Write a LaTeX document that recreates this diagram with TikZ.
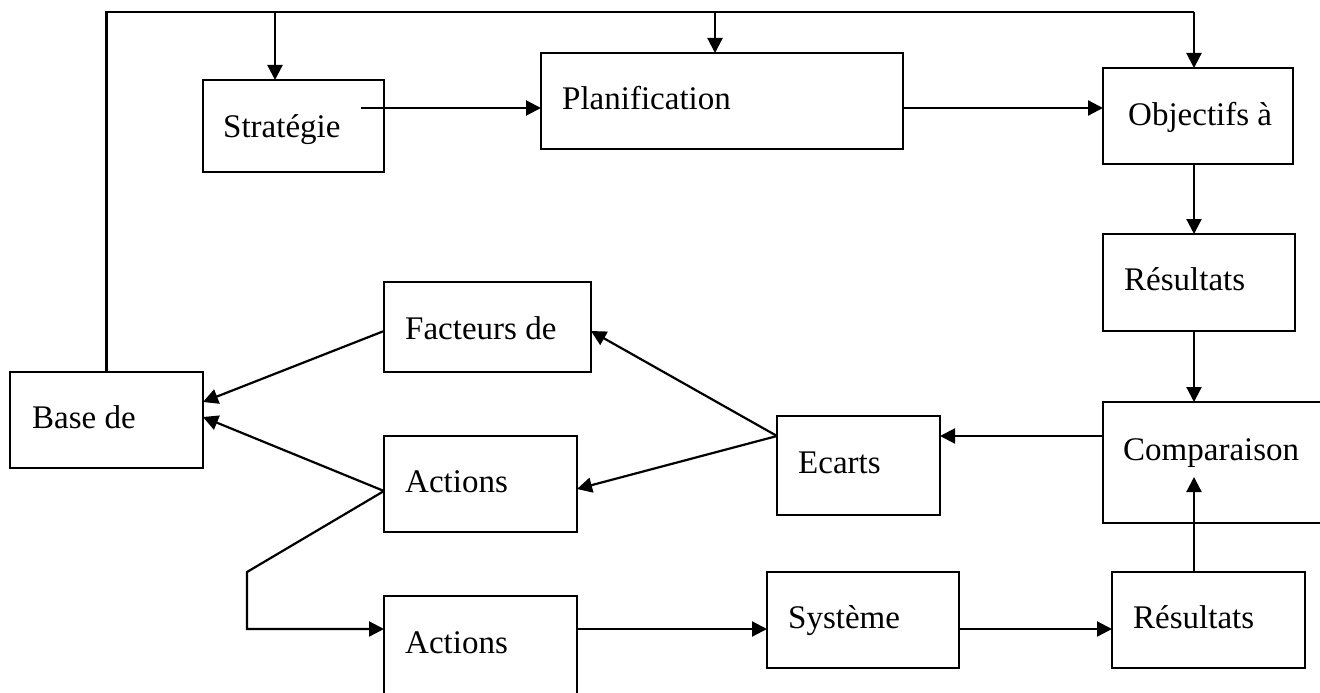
\documentclass[tikz,border=0pt]{standalone}
\usepackage{fontspec}
\setmainfont{Liberation Serif}
\usetikzlibrary{arrows.meta,calc}
\begin{document}
\begin{tikzpicture}[x=1pt,y=-1pt,
  box/.style={draw, line width=1.8pt, rectangle, inner sep=0pt, outer sep=0pt},
  lbl/.style={anchor=base west, inner sep=0pt, font=\fontsize{33}{40}\selectfont},
  ln/.style={line width=2.2pt},
  arr/.style={line width=2.2pt, -{Triangle[length=15pt,width=15pt]}}]
\useasboundingbox (0,0) rectangle (1320,693);
% boxes
\node[box, minimum width=181pt, minimum height=92pt] (strat) at (293.5,126) {};
\node[box, minimum width=362pt, minimum height=96pt] (plan) at (722,101) {};
\node[box, minimum width=190pt, minimum height=96pt] (obj) at (1198,116) {};
\node[box, minimum width=192pt, minimum height=97pt] (res1) at (1199,282.5) {};
\node[box, minimum width=219pt, minimum height=121pt] (comp) at (1212.5,462.5) {};
\node[box, minimum width=163pt, minimum height=99pt] (ecarts) at (858.5,465.5) {};
\node[box, minimum width=207pt, minimum height=90pt] (fact) at (487.5,327) {};
\node[box, minimum width=193pt, minimum height=96pt] (act1) at (480.5,484) {};
\node[box, minimum width=193pt, minimum height=100pt] (act2) at (480.5,646) {};
\node[box, minimum width=193pt, minimum height=96pt] (base) at (106.5,420) {};
\node[box, minimum width=192pt, minimum height=96pt] (sys) at (863,620) {};
\node[box, minimum width=193pt, minimum height=96pt] (res2) at (1208.5,620) {};
% labels
\node[lbl] (tstrat) at (223,137) {Stratégie};
\node[lbl] (tplan) at (562,110) {Planification};
\node[lbl] (tobj) at (1128,125) {Objectifs à};
\node[lbl] (tres1) at (1124,290) {Résultats};
\node[lbl] (tcomp) at (1123,460) {Comparaison};
\node[lbl] (tecarts) at (798,473) {Ecarts};
\node[lbl] (tfact) at (405,339) {Facteurs de};
\node[lbl] (tact1) at (405,492) {Actions};
\node[lbl] (tact2) at (405,653) {Actions};
\node[lbl] (tbase) at (32,428) {Base de};
\node[lbl] (tsys) at (788,628) {Système};
\node[lbl] (tres2) at (1133,628) {Résultats};
% helper coordinates
\coordinate (tl) at (106.5,12);
\coordinate (tr) at (1194,12);
\coordinate (s1) at (275,12);
\coordinate (s2) at (715,12);
\coordinate (a1) at (361,108);
\coordinate (h1) at (0,436);
\coordinate (e) at (ecarts.west |- h1);
\coordinate (a3) at ($(act1.west)+(0,7)$);
\coordinate (k1) at (247,572);
\coordinate (k2) at (247,629);
\coordinate (r2) at (1194,477);
% connectors
\draw[ln] (base.north) -- (tl) -- (tr);
\draw[arr] (tr) -- (tr |- obj.north);
\draw[arr] (s1) -- (s1 |- strat.north);
\draw[arr] (s2) -- (s2 |- plan.north);
\draw[arr] (a1) -- (a1 -| plan.west);
\draw[arr] (plan.east |- a1) -- (obj.west |- a1);
\draw[arr] (tr |- obj.south) -- (tr |- res1.north);
\draw[arr] (tr |- res1.south) -- (tr |- comp.north);
\draw[arr] (comp.west |- h1) -- (ecarts.east |- h1);
\draw[arr] (e) -- ($(fact.east)+(0,4)$);
\draw[arr] (e) -- ($(act1.east)+(0,5)$);
\draw[arr] ($(fact.west)+(0,4)$) -- ($(base.east)+(0,-18)$);
\draw[arr] (a3) -- ($(base.east)+(0,-3)$);
\draw[arr] (a3) -- (k1) -- (k2) -- (k2 -| act2.west);
\draw[arr] (act2.east |- k2) -- (sys.west |- k2);
\draw[arr] (sys.east |- k2) -- (res2.west |- k2);
\draw[arr] (r2 |- res2.north) -- (r2);
\end{tikzpicture}
\end{document}
